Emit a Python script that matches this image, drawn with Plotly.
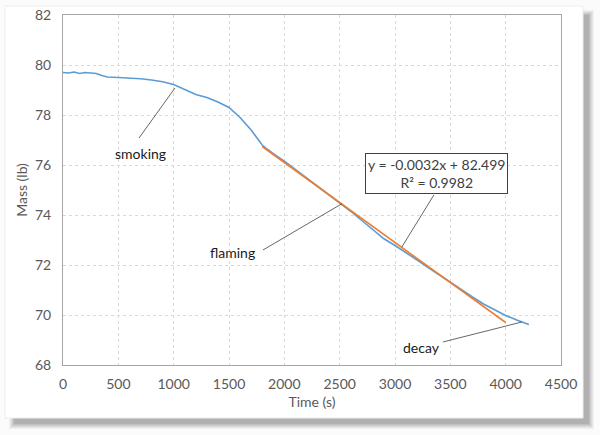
import plotly.graph_objects as go

time_s = [0, 50, 100, 150, 200, 250, 300, 350, 400, 500, 600, 700, 800, 900,
          1000, 1100, 1200, 1300, 1400, 1500, 1600, 1700, 1750, 1800, 1850,
          1900, 2000, 2100, 2200, 2300, 2400, 2500, 2600, 2700, 2800, 2900,
          3000, 3100, 3200, 3300, 3400, 3500, 3600, 3700, 3800, 3900, 4000,
          4100, 4150, 4210]
mass_lb = [79.70, 79.68, 79.72, 79.66, 79.70, 79.68, 79.66, 79.58, 79.52, 79.50,
           79.49, 79.45, 79.40, 79.33, 79.22, 79.02, 78.82, 78.70, 78.52, 78.30,
           77.90, 77.40, 77.10, 76.80, 76.62, 76.45, 76.15, 75.82, 75.48, 75.15,
           74.83, 74.50, 74.15, 73.78, 73.42, 73.05, 72.78, 72.50, 72.20, 71.90,
           71.60, 71.30, 71.00, 70.72, 70.44, 70.20, 69.98, 69.80, 69.72, 69.62]

# linear trendline endpoints
trend_x = [1800, 4000]
trend_y = [76.74, 69.70]

equation = "y = -0.0032x + 82.499<br>R² = 0.9982"

x_ticks = [0, 500, 1000, 1500, 2000, 2500, 3000, 3500, 4000, 4500]
y_ticks = [68, 70, 72, 74, 76, 78, 80, 82]

FONT = "Lato, 'Open Sans', sans-serif"
W, H = 600, 435
L, R, T, B = 63, 39, 15, 70


def px(x, y):
    # pixel -> paper coordinates
    pw, ph = W - L - R, H - T - B
    return (x - L) / pw, (H - B - y) / ph


fig = go.Figure()
fig.add_trace(go.Scatter(x=time_s, y=mass_lb, mode="lines",
                         line=dict(color="#5b9bd5", width=1.6), showlegend=False))
fig.add_trace(go.Scatter(x=trend_x, y=trend_y, mode="lines",
                         line=dict(color="#ed7d31", width=1.6), showlegend=False))

shapes = []
# card drop shadow
for i, op in enumerate([0.05, 0.06, 0.07, 0.08, 0.09, 0.10]):
    d = 7 - i
    x0, y0 = px(5 + 4 + i, 6 + 4 + i)
    x1, y1 = px(583 + 4 + d, 418 + 4 + d)
    shapes.append(dict(type="rect", xref="paper", yref="paper", x0=x0, y0=y1, x1=x1, y1=y0,
                       line_width=0, fillcolor=f"rgba(60,60,60,{op})", layer="below"))
x0, y0 = px(5, 6)
x1, y1 = px(583, 418)
shapes.append(dict(type="rect", xref="paper", yref="paper", x0=x0, y0=y1, x1=x1, y1=y0,
                   line=dict(color="#eeeeee", width=1), fillcolor="white", layer="below"))

# callout lines
callouts = [
    ((687, 77.08), (1012, 79.08)),
    ((1807, 72.6), (2520, 74.45)),
    ((3062, 72.72), (3351, 74.8)),
    ((3433, 68.92), (4146, 69.72)),
]
for (ax0, ay0), (ax1, ay1) in callouts:
    shapes.append(dict(type="line", xref="x", yref="y", x0=ax0, y0=ay0, x1=ax1, y1=ay1,
                       line=dict(color="#404040", width=0.8)))

labels = [("smoking", 696, 76.48), ("flaming", 1536, 72.52), ("decay", 3243, 68.72)]
annotations = [dict(x=x, y=y, text=t, showarrow=False, xref="x", yref="y",
                    font=dict(family=FONT, size=14, color="#1a1a1a"))
               for t, x, y in labels]
annotations.append(dict(x=3379, y=75.68, text=equation, showarrow=False, xref="x", yref="y",
                        font=dict(family=FONT, size=14, color="#404040"),
                        bgcolor="white", bordercolor="#404040", borderwidth=1, borderpad=2))

axis_style = dict(showline=True, linecolor="#a6a6a6", linewidth=1, mirror=True,
                  showgrid=True, gridcolor="#d9d9d9", griddash="dot", gridwidth=1,
                  zeroline=False, ticks="", tickfont=dict(family=FONT, size=14, color="#595959"),
                  title_font=dict(family=FONT, size=14, color="#595959"))

fig.update_layout(
    width=W, height=H,
    margin=dict(l=L, r=R, t=T, b=B, autoexpand=False),
    paper_bgcolor="#fbfbfb", plot_bgcolor="rgba(0,0,0,0)",
    shapes=shapes, annotations=annotations,
    xaxis=dict(range=[0, 4500], tickvals=x_ticks, title_text="Time (s)",
               title_standoff=6, ticklabelstandoff=6, **axis_style),
    yaxis=dict(range=[68, 82], tickvals=y_ticks, title_text="Mass (lb)",
               title_standoff=4, ticklabelstandoff=8, **axis_style),
)

fig.write_html("out.html", config={"displayModeBar": False},
               post_script="document.body.style.margin='0';")
